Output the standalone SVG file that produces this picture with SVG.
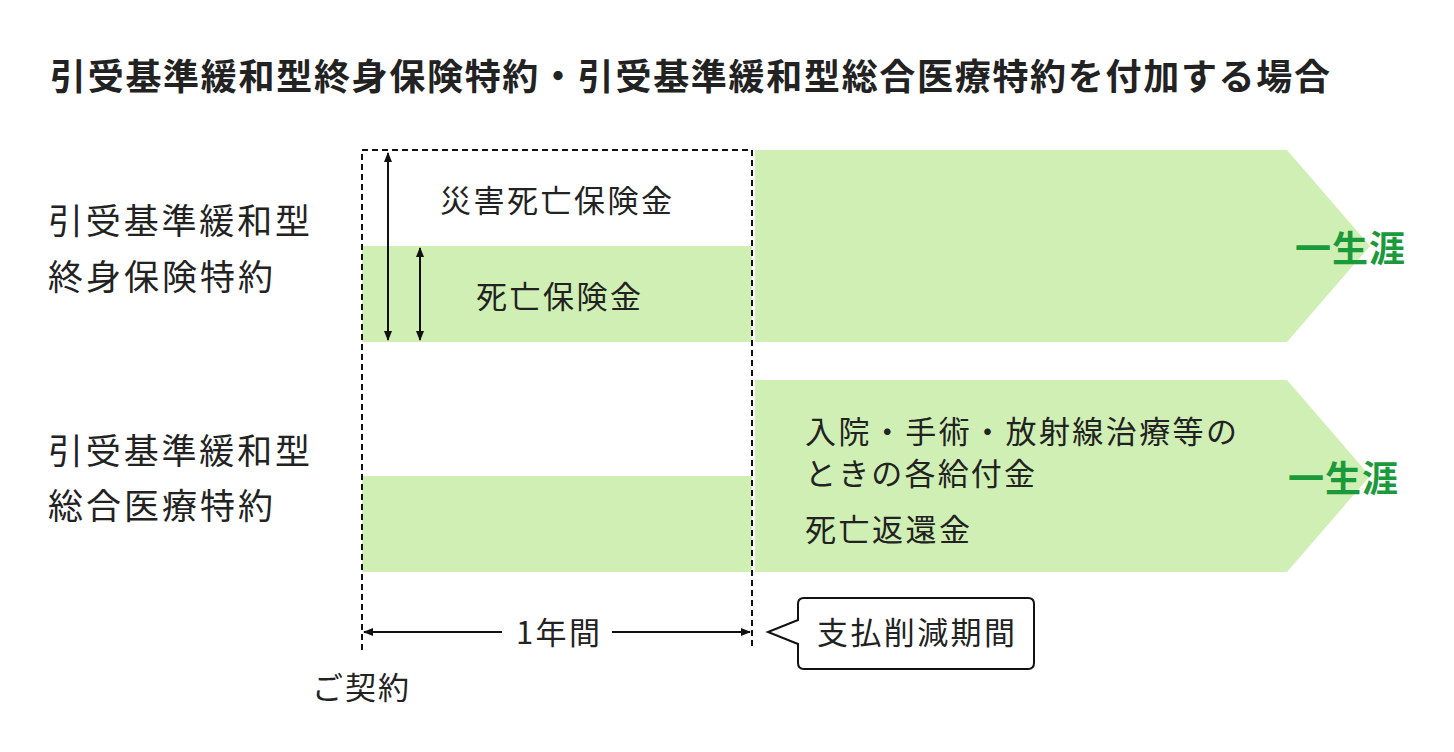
<svg xmlns="http://www.w3.org/2000/svg" width="1454" height="752" viewBox="0 0 1454 752">
<style>
text{font-family:"Noto Sans CJK JP","Noto Sans",sans-serif;fill:#222}
.t{font-size:31px}
.l{font-size:35px}
.g{fill:#d0efb4}
.e{font-size:36px;font-weight:bold;fill:#1a9a3a}
.a{stroke:#111;stroke-width:2;fill:none}
</style>
<defs><marker id="m" viewBox="0 0 10 10" refX="9" refY="5" markerWidth="10" markerHeight="10" markerUnits="userSpaceOnUse" orient="auto-start-reverse"><path d="M0,1 L10,5 L0,9 z" fill="#111"/></marker></defs>
<rect width="1454" height="752" fill="#fff"/>
<text x="50" y="90" style="font-size:36px;font-weight:bold" textLength="1280" lengthAdjust="spacing">引受基準緩和型終身保険特約・引受基準緩和型総合医療特約を付加する場合</text>
<g id="row1">
<path class="g" d="M755,150H1287L1370,246L1287,342H755z"/>
<rect class="g" x="362" y="246" width="390" height="96"/>
<text class="l" x="48" y="234" textLength="262" lengthAdjust="spacing">引受基準緩和型</text>
<text class="l" x="48" y="290" textLength="225" lengthAdjust="spacing">終身保険特約</text>
<text class="t" x="440" y="212" textLength="232" lengthAdjust="spacing">災害死亡保険金</text>
<text class="t" x="476" y="308" textLength="165" lengthAdjust="spacing">死亡保険金</text>
<text class="e" x="1295" y="262" textLength="110" lengthAdjust="spacing">一生涯</text>
</g>
<g id="row2">
<path class="g" d="M755,380H1287L1370,476L1287,572H755z"/>
<rect class="g" x="362" y="476" width="390" height="96"/>
<text class="l" x="48" y="464" textLength="262" lengthAdjust="spacing">引受基準緩和型</text>
<text class="l" x="48" y="519" textLength="225" lengthAdjust="spacing">総合医療特約</text>
<text class="t" x="805" y="443" textLength="432" lengthAdjust="spacing">入院・手術・放射線治療等の</text>
<text class="t" x="805" y="485" textLength="230" lengthAdjust="spacing">ときの各給付金</text>
<text class="t" x="805" y="541" textLength="165" lengthAdjust="spacing">死亡返還金</text>
<text class="e" x="1288" y="492" textLength="110" lengthAdjust="spacing">一生涯</text>
</g>
<g id="callout">
<path d="M804,598H1028Q1034,598 1034,604V663Q1034,669 1028,669H804Q798,669 798,663V644L768,632L798,620V604Q798,598 804,598z" fill="#fff" stroke="#111" stroke-width="2"/>
<text class="t" x="817" y="644" textLength="198" lengthAdjust="spacing">支払削減期間</text>
</g>
<text class="t" x="312" y="699" textLength="97" lengthAdjust="spacing">ご契約</text>
<text class="t" x="516" y="644" textLength="84" lengthAdjust="spacing">1年間</text>
<g id="connectors">
<path class="a" stroke-dasharray="6,4" d="M362,650V150H752V650"/>
<path class="a" d="M388,153V340" marker-start="url(#m)" marker-end="url(#m)"/>
<path class="a" d="M420,248V340" marker-start="url(#m)" marker-end="url(#m)"/>
<path class="a" d="M364,632H502" marker-start="url(#m)"/>
<path class="a" d="M612,632H750" marker-end="url(#m)"/>
</g>
</svg>
